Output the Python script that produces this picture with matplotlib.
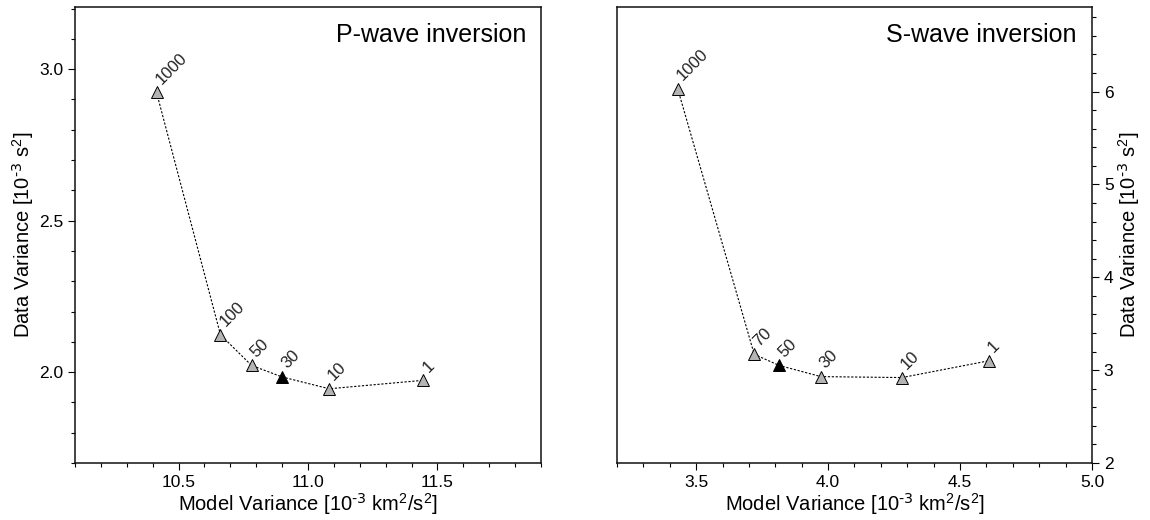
import numpy as np
import matplotlib.pyplot as plt
from matplotlib.ticker import MultipleLocator

plt.rcParams['font.family'] = ['Liberation Sans', 'DejaVu Sans']
plt.rcParams['mathtext.default'] = 'regular'

# P-wave trade-off curve (damping values as labels)
p_labels = ['1000', '100', '50', '30', '10', '1']
p_model = [10.415, 10.662, 10.782, 10.900, 11.082, 11.446]
p_data = [2.923, 2.123, 2.022, 1.984, 1.945, 1.973]
p_best = '30'

# S-wave trade-off curve
s_labels = ['1000', '70', '50', '30', '10', '1']
s_model = [3.43, 3.72, 3.815, 3.973, 4.28, 4.608]
s_data = [6.03, 3.17, 3.05, 2.93, 2.92, 3.10]
s_best = '50'

xlabel = r'Model Variance [10$^{\text{-3}}$ km$^{2}$/s$^{2}$]'
ylabel = r'Data Variance [10$^{\text{-3}}$ s$^{2}$]'

fig = plt.figure(figsize=(11.5, 5.2), dpi=100)
ax1 = fig.add_axes([75 / 1150, 57 / 520, 466 / 1150, 456 / 520])
ax2 = fig.add_axes([617 / 1150, 57 / 520, 475 / 1150, 456 / 520])


def draw_curve(ax, xs, ys, labels, best, title):
    ax.plot(xs, ys, color='black', lw=0.8, ls=(0, (2, 1.5)), zorder=2)
    for x, y, lab in zip(xs, ys, labels):
        fc = 'black' if lab == best else '#b4b4b4'
        ax.plot(x, y, marker='^', ms=8, mfc=fc, mec='black', mew=0.7, zorder=3)
        ax.annotate(lab, (x, y), xytext=(5, 4), textcoords='offset points',
                    rotation=45, rotation_mode='anchor', ha='left', va='bottom',
                    fontsize=12, color='#222222')
    ax.text(0.968, 0.965, title, transform=ax.transAxes, ha='right', va='top',
            fontsize=18)
    ax.set_xlabel(xlabel, fontsize=14.5, labelpad=1)
    ax.set_ylabel(ylabel, fontsize=14.5, labelpad=2)
    for s in ax.spines.values():
        s.set_linewidth(1.1)
        s.set_color('#111111')
    ax.tick_params(which='major', length=5, width=0.8, labelsize=12.5, direction='out')
    ax.tick_params(which='minor', length=3, width=0.8, direction='out')


draw_curve(ax1, p_model, p_data, p_labels, p_best, 'P-wave inversion')
ax1.set_xlim(10.1, 11.9)
ax1.set_ylim(1.7, 3.205)
ax1.set_xticks([10.5, 11.0, 11.5])
ax1.set_yticks([2.0, 2.5, 3.0])
ax1.xaxis.set_minor_locator(MultipleLocator(0.1))
ax1.yaxis.set_minor_locator(MultipleLocator(0.1))
ax1.tick_params(which='both', top=False, right=False)

draw_curve(ax2, s_model, s_data, s_labels, s_best, 'S-wave inversion')
ax2.set_xlim(3.2, 5.0)
ax2.set_ylim(2, 6.91)
ax2.set_xticks([3.5, 4.0, 4.5, 5.0])
ax2.set_yticks([2, 3, 4, 5, 6])
ax2.xaxis.set_minor_locator(MultipleLocator(0.1))
ax2.yaxis.set_minor_locator(MultipleLocator(0.2))
ax2.yaxis.tick_right()
ax2.yaxis.set_label_position('right')
ax2.tick_params(which='both', top=False, left=False)

fig.savefig('out.png', dpi=100)
